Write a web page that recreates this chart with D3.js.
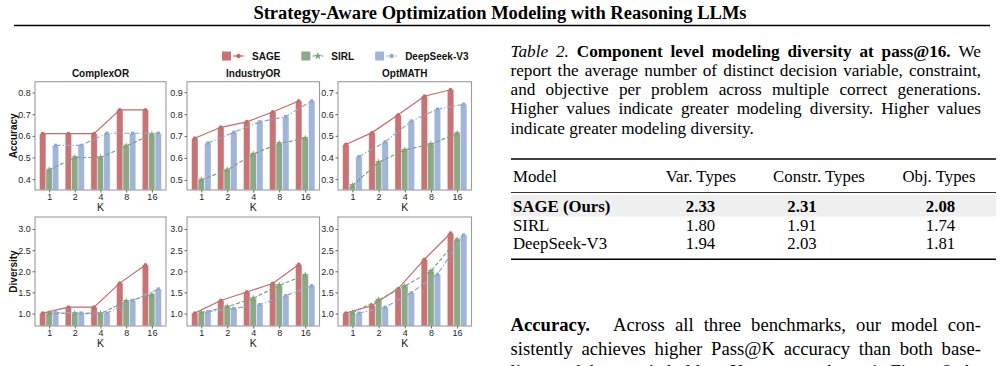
<!DOCTYPE html>
<html><head><meta charset="utf-8">
<script src="https://cdn.jsdelivr.net/npm/d3@7"></script>
<style>body{margin:0;background:#fff}svg{display:block}</style>
</head><body>
<svg id="c" width="1003" height="366"></svg>
<script>
// ---------------- data ----------------
const kLabels = ["1", "2", "4", "8", "16"];
const benchmarks = ["ComplexOR", "IndustryOR", "OptMATH"];
const models = ["SAGE", "SIRL", "DeepSeek-V3"];

// Accuracy (pass@K), one row per benchmark
const accSAGE = [[0.61, 0.61, 0.61, 0.72, 0.72], [0.69, 0.74, 0.765, 0.81, 0.86], [0.46, 0.515, 0.597, 0.683, 0.713]];
const accSIRL = [[0.443, 0.50, 0.50, 0.553, 0.607], [0.50, 0.546, 0.618, 0.666, 0.69], [0.271, 0.378, 0.435, 0.462, 0.511]];
const accDS   = [[0.556, 0.556, 0.612, 0.612, 0.612], [0.668, 0.717, 0.765, 0.789, 0.86], [0.404, 0.472, 0.568, 0.623, 0.646]];
// Diversity
const divSAGE = [[1.01, 1.15, 1.15, 1.72, 2.15], [1.01, 1.31, 1.51, 1.71, 2.16], [1.01, 1.19, 1.59, 2.28, 2.90]];
const divSIRL = [[1.01, 1.00, 1.00, 1.29, 1.44], [1.02, 1.16, 1.36, 1.67, 1.91], [1.02, 1.32, 1.65, 2.00, 2.75]];
const divDS   = [[1.02, 1.01, 1.01, 1.31, 1.58], [1.04, 1.12, 1.21, 1.42, 1.66], [1.01, 1.15, 1.49, 1.93, 2.86]];

const accTicks = [[0.4, 0.5, 0.6, 0.7, 0.8], [0.5, 0.6, 0.7, 0.8, 0.9], [0.3, 0.4, 0.5, 0.6, 0.7]];
const divTicks = [1.0, 1.5, 2.0, 2.5, 3.0];

// table
const tableHeader = ["Model", "Var. Types", "Constr. Types", "Obj. Types"];
const tableModels = ["SAGE (Ours)", "SIRL", "DeepSeek-V3"];
const varTypes = ["2.33", "1.80", "1.94"];
const constrTypes = ["2.31", "1.91", "2.03"];
const objTypes = ["2.08", "1.74", "1.81"];

// ---------------- style ----------------
const sans = "'Liberation Sans', Arial, sans-serif";
const serif = "'Liberation Serif', 'Times New Roman', serif";
const barColors = ["#c97474", "#8ba887", "#a0b5d7"];
const lineColors = ["#c86a6a", "#7ea377", "#8fa8d2"];
const dashes = [null, "4,2", "5,2,1.2,2"];
const symbols = [d3.symbolCircle, d3.symbolStar, d3.symbolSquare];
const symSize = [12, 16, 11];

const svg = d3.select("#c");

// ---------------- page header ----------------
svg.append("text").attr("x", 500).attr("y", 19).attr("text-anchor", "middle")
  .style("font-family", serif).style("font-weight", "bold").style("font-size", "18.5px")
  .text("Strategy-Aware Optimization Modeling with Reasoning LLMs");
svg.append("line").attr("x1", 14).attr("x2", 990).attr("y1", 25.5).attr("y2", 25.5)
  .attr("stroke", "#000").attr("stroke-width", 1.3);

// ---------------- chart ----------------
const colX = [[35, 166], [187, 319.5], [338, 471.5]];
const rowY = [[81.7, 190], [217, 326]];
const accDomains = [[0.35, 0.85], [0.454, 0.948], [0.25, 0.75]];
const divDomain = [0.705, 3.285];

for (let r = 0; r < 2; r++) {
  for (let b = 0; b < 3; b++) {
    const [x0, x1] = colX[b];
    const [y0, y1] = rowY[r];
    const x = d3.scaleLinear().domain([-0.55, 4.55]).range([x0, x1]);
    const y = d3.scaleLinear().domain(r === 0 ? accDomains[b] : divDomain).range([y1, y0]);
    const vals = r === 0 ? [accSAGE[b], accSIRL[b], accDS[b]] : [divSAGE[b], divSIRL[b], divDS[b]];
    const g = svg.append("g");
    const bw = x(0.25) - x(0);

    vals.forEach((arr, s) => {
      g.selectAll(null).data(arr).enter().append("rect")
        .attr("x", (v, i) => x(i + (s - 1) * 0.25) - bw / 2)
        .attr("width", bw)
        .attr("y", v => y(v))
        .attr("height", v => y1 - y(v))
        .attr("fill", barColors[s])
        .attr("stroke", "#fff").attr("stroke-opacity", 0.55).attr("stroke-width", 0.8);
    });
    vals.forEach((arr, s) => {
      const line = d3.line().x((v, i) => x(i + (s - 1) * 0.25)).y(v => y(v));
      g.append("path").attr("d", line(arr)).attr("fill", "none")
        .attr("stroke", lineColors[s]).attr("stroke-width", 1.2)
        .attr("stroke-dasharray", dashes[s]);
      g.selectAll(null).data(arr).enter().append("path")
        .attr("d", d3.symbol().type(symbols[s]).size(symSize[s]))
        .attr("transform", (v, i) => `translate(${x(i + (s - 1) * 0.25)},${y(v)})`)
        .attr("fill", lineColors[s]);
    });

    // frame
    g.append("rect").attr("x", x0).attr("y", y0).attr("width", x1 - x0).attr("height", y1 - y0)
      .attr("fill", "none").attr("stroke", "#9c9c9c").attr("stroke-width", 1.1);

    // y axis
    const ya = g.append("g").attr("transform", `translate(${x0},0)`)
      .call(d3.axisLeft(y).tickValues(r === 0 ? accTicks[b] : divTicks).tickSize(2.5).tickPadding(1.8).tickFormat(d3.format(".1f")));
    ya.select(".domain").remove();
    ya.selectAll("line").attr("stroke", "#666");
    ya.selectAll("text").style("font-family", sans).style("font-size", "9px").attr("fill", "#262626");

    // x axis
    const xa = g.append("g").attr("transform", `translate(0,${y1})`)
      .call(d3.axisBottom(x).tickValues([0, 1, 2, 3, 4]).tickSize(2.5).tickPadding(1.5).tickFormat(i => kLabels[i]));
    xa.select(".domain").remove();
    xa.selectAll("line").attr("stroke", "#666");
    xa.selectAll("text").style("font-family", sans).style("font-size", "9px").attr("fill", "#262626");

    g.append("text").attr("x", (x0 + x1) / 2).attr("y", y1 + 21).attr("text-anchor", "middle")
      .style("font-family", sans).style("font-size", "10.5px").attr("fill", "#222").text("K");

    if (r === 0) {
      g.append("text").attr("x", (x0 + x1) / 2).attr("y", y0 - 4.7).attr("text-anchor", "middle")
        .style("font-family", sans).style("font-weight", "bold").style("font-size", "10px")
        .attr("fill", "#111").text(benchmarks[b]);
    }
    if (b === 0) {
      g.append("text").attr("transform", `translate(16.8,${(y0 + y1) / 2}) rotate(-90)`)
        .attr("text-anchor", "middle").style("font-family", sans).style("font-weight", "bold")
        .style("font-size", "10px").attr("fill", "#111").text(r === 0 ? "Accuracy" : "Diversity");
    }
  }
}

// legend
{
  let lx = 222;
  const ly = 56;
  models.forEach((m, s) => {
    const lg = svg.append("g");
    lg.append("rect").attr("x", lx).attr("y", ly - 4.5).attr("width", 9).attr("height", 9).attr("fill", barColors[s]);
    lg.append("line").attr("x1", lx + 11).attr("x2", lx + 22).attr("y1", ly).attr("y2", ly)
      .attr("stroke", lineColors[s]).attr("stroke-width", 1.2).attr("stroke-dasharray", dashes[s] ? "3,1.5" : null);
    lg.append("path").attr("d", d3.symbol().type(symbols[s]).size(symSize[s] + 4))
      .attr("transform", `translate(${lx + 16.5},${ly})`).attr("fill", lineColors[s]);
    const t = lg.append("text").attr("x", lx + 30).attr("y", ly + 3.6)
      .style("font-family", sans).style("font-weight", "bold").style("font-size", "10px").attr("fill", "#111").text(m);
    lx = lx + 30 + t.node().getComputedTextLength() + 21;
  });
}

// ---------------- text column ----------------
function seg(str, style, fill) {
  return str.split(" ").filter(w => w.length).map(w => ({ t: w, style: style || "", fill: fill }));
}
function placeLine(words, xa, xb, base, size, justify) {
  const g = svg.append("g");
  const nodes = words.map(w => {
    const n = g.append("text").attr("y", base).style("font-family", serif).style("font-size", size + "px")
      .attr("fill", w.fill || "#000").text(w.t);
    if (w.style.includes("b")) n.style("font-weight", "bold");
    if (w.style.includes("i")) n.style("font-style", "italic");
    return n;
  });
  const widths = nodes.map(n => n.node().getComputedTextLength());
  const extra = d3.sum(words, w => w.extra || 0);
  const total = d3.sum(widths) + extra;
  const gap = justify ? (xb - xa - total) / (words.length - 1) : size * 0.25;
  let xx = xa;
  nodes.forEach((n, i) => { n.attr("x", xx); xx += widths[i] + gap + (words[i].extra || 0); });
}

const capSize = 17.2, TX0 = 510.5, TX1 = 981;
const capLines = [
  [...seg("Table 2.", "i"), ...seg("Component level modeling diversity at pass@16.", "b"), ...seg("We")],
  seg("report the average number of distinct decision variable, constraint,"),
  seg("and objective per problem across multiple correct generations."),
  seg("Higher values indicate greater modeling diversity. Higher values"),
  seg("indicate greater modeling diversity.")
];
const capBase = [56.5, 75.8, 95.1, 114.4, 133.7];
capLines.forEach((ln, i) => placeLine(ln, TX0, TX1, capBase[i], capSize, i < capLines.length - 1));

// table
{
  const tSize = 16.8;
  const tx0 = 511, tx1 = 996;
  svg.append("rect").attr("x", tx0).attr("y", 195).attr("width", tx1 - tx0).attr("height", 21.5).attr("fill", "#efefef");
  [[159, 1.4], [192.5, 0.8], [259.3, 1.4]].forEach(([yy, w]) =>
    svg.append("line").attr("x1", tx0).attr("x2", tx1).attr("y1", yy).attr("y2", yy).attr("stroke", "#000").attr("stroke-width", w));
  const hdrX = [513, 701, 819, 939];
  const valX = [513, 700.5, 802, 940.5];
  const tt = (x, y, s, anchor, bold) => svg.append("text").attr("x", x).attr("y", y).attr("text-anchor", anchor)
    .style("font-family", serif).style("font-size", tSize + "px").style("font-weight", bold ? "bold" : "normal").text(s);
  tableHeader.forEach((h, j) => tt(hdrX[j], 182, h, j === 0 ? "start" : "middle", false));
  const rowBase = [212, 230.5, 249];
  tableModels.forEach((m, i) => {
    const bold = i === 0;
    tt(valX[0], rowBase[i], m, "start", bold);
    tt(valX[1], rowBase[i], varTypes[i], "middle", bold);
    tt(valX[2], rowBase[i], constrTypes[i], "middle", bold);
    tt(valX[3], rowBase[i], objTypes[i], "middle", bold);
  });
}

// body paragraph
{
  const bSize = 18.7;
  const l1 = [...seg("Accuracy.", "b"), ...seg("Across all three benchmarks, our model con-")];
  l1[0].extra = 13;
  placeLine(l1, TX0, TX1, 331, bSize, true);
  placeLine(seg("sistently achieves higher Pass@K accuracy than both base-"), TX0, TX1, 354.6, bSize, true);
  placeLine([...seg("lines, and the margin holds as K grows, as shown in Figure"), ...seg("2.", "", "#1a1aa6"), ...seg("As")], TX0, TX1, 378, bSize, true);
}
</script>
</body></html>
